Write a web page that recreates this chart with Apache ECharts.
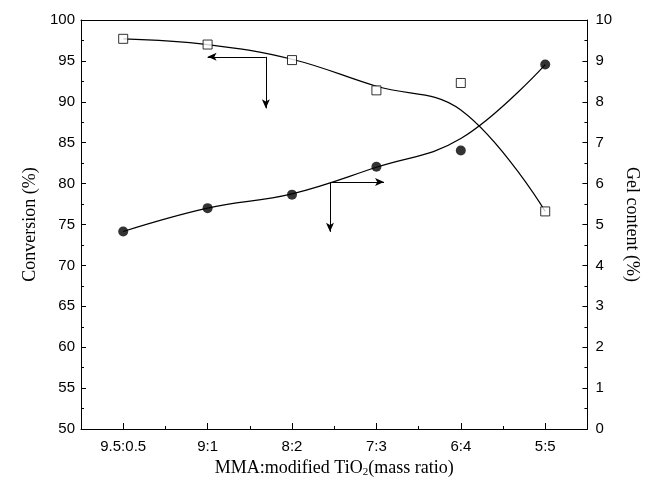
<!DOCTYPE html>
<html>
<head>
<meta charset="utf-8">
<script src="https://cdn.jsdelivr.net/npm/echarts@6/dist/echarts.min.js"></script>
<style>
  html, body { margin: 0; padding: 0; background: #fff; }
  #chart { width: 649px; height: 483px; }
</style>
</head>
<body>
<div id="chart"></div>
<script>
// 质量比（MMA:改性TiO2）
const ratios = ['9.5:0.5', '9:1', '8:2', '7:3', '6:4', '5:5']

// 转化率 (%) - 左轴，空心方块
const conversion = [97.7, 97.0, 95.1, 91.4, 92.3, 76.6]
// 转化率拟合曲线
const conversionFit = [97.7, 97.0, 95.2, 91.9, 89.0, 76.6]

// 凝胶含量 (%) - 右轴，实心圆点
const gelContent = [4.83, 5.4, 5.73, 6.41, 6.81, 8.91]
// 凝胶含量拟合曲线
const gelFit = [4.83, 5.4, 5.75, 6.4, 7.1, 8.91]

// 指示箭头：[起点x, 起点y, 终点x, 终点y]，x为类目序号，y为左轴数值
const arrows = [
    [1.69, 95.5, 1.0, 95.5],
    [1.69, 95.5, 1.69, 89.2],
    [2.45, 80.2, 3.09, 80.2],
    [2.45, 80.2, 2.45, 74.1]
]

const INK = '#000'
const tickFont = { fontFamily: 'Liberation Sans', fontSize: 15, color: INK }
const nameFont = { fontFamily: 'Liberation Serif', fontSize: 18, color: INK }

const chart = echarts.init(document.getElementById('chart'))

const option = {
    animation: false,
    grid: {
        left: 81,
        right: 53,
        top: 20,
        bottom: 52
    },
    xAxis: [
        {
            type: 'category',
            data: ratios,
            boundaryGap: true,
            name: 'MMA:modified TiO{sub|2}(mass ratio)',
            nameLocation: 'middle',
            nameGap: 30,
            nameTextStyle: {
                ...nameFont,
                rich: {
                    sub: { fontFamily: 'Liberation Serif', fontSize: 11, color: INK, verticalAlign: 'bottom', padding: [8, 0, 0, 0] }
                }
            },
            axisLine: { show: true, onZero: false, lineStyle: { color: INK, width: 1 } },
            axisTick: { show: true, alignWithLabel: true, inside: true, length: 6, lineStyle: { color: INK, width: 1 } },
            axisLabel: { ...tickFont, margin: 10 },
            splitLine: { show: false }
        },
        {
            // 类目之间的短刻度
            type: 'category',
            data: ratios,
            boundaryGap: true,
            position: 'bottom',
            axisLine: { show: false, onZero: false },
            axisTick: { show: true, interval: 0, inside: true, length: 3, lineStyle: { color: INK, width: 1 } },
            axisLabel: { show: false },
            splitLine: { show: false }
        },
        {
            // 顶边框
            type: 'category',
            data: ratios,
            position: 'top',
            axisLine: { show: true, onZero: false, lineStyle: { color: INK, width: 1 } },
            axisTick: { show: false },
            axisLabel: { show: false },
            splitLine: { show: false }
        },
        {
            // 箭头用的隐藏数值轴
            type: 'value',
            min: -0.5,
            max: 5.5,
            show: false
        }
    ],
    yAxis: [
        {
            type: 'value',
            min: 50,
            max: 100,
            interval: 5,
            name: 'Conversion (%)',
            nameLocation: 'middle',
            nameGap: 40,
            nameTextStyle: nameFont,
            axisLine: { show: true, onZero: false, lineStyle: { color: INK, width: 1 } },
            axisTick: { show: true, inside: true, length: 5, lineStyle: { color: INK, width: 1 } },
            minorTick: { show: true, splitNumber: 2, length: 3, lineStyle: { color: INK, width: 1 } },
            axisLabel: { ...tickFont, margin: 6 },
            splitLine: { show: false }
        },
        {
            type: 'value',
            min: 0,
            max: 10,
            interval: 1,
            position: 'right',
            name: 'Gel content (%)',
            nameLocation: 'middle',
            nameRotate: -90,
            nameGap: 30,
            nameTextStyle: nameFont,
            axisLine: { show: true, onZero: false, lineStyle: { color: INK, width: 1 } },
            axisTick: { show: true, inside: true, length: 5, lineStyle: { color: INK, width: 1 } },
            minorTick: { show: true, splitNumber: 2, length: 3, lineStyle: { color: INK, width: 1 } },
            axisLabel: { ...tickFont, margin: 8 },
            splitLine: { show: false }
        }
    ],
    series: [
        {
            name: 'Conversion fit',
            type: 'line',
            data: conversionFit,
            xAxisIndex: 0,
            yAxisIndex: 0,
            smooth: 0.4,
            showSymbol: false,
            lineStyle: { color: INK, width: 1.2 },
            z: 2
        },
        {
            name: 'Conversion',
            type: 'scatter',
            data: conversion,
            xAxisIndex: 0,
            yAxisIndex: 0,
            symbol: 'rect',
            symbolSize: 9,
            itemStyle: { color: '#fff', borderColor: INK, borderWidth: 1 },
            z: 3
        },
        {
            name: 'Gel fit',
            type: 'line',
            data: gelFit,
            xAxisIndex: 0,
            yAxisIndex: 1,
            smooth: 0.4,
            showSymbol: false,
            lineStyle: { color: INK, width: 1.2 },
            z: 2
        },
        {
            name: 'Gel content',
            type: 'scatter',
            data: gelContent,
            xAxisIndex: 0,
            yAxisIndex: 1,
            symbol: 'circle',
            symbolSize: 10,
            itemStyle: { color: INK },
            z: 3
        },
        {
            name: 'arrows',
            type: 'scatter',
            data: [],
            xAxisIndex: 3,
            yAxisIndex: 0,
            silent: true,
            markLine: {
                silent: true,
                symbol: ['none', 'arrow'],
                symbolSize: [6, 9],
                label: { show: false },
                lineStyle: { color: INK, width: 1, type: 'solid' },
                data: arrows.map(a => [{ coord: [a[0], a[1]] }, { coord: [a[2], a[3]] }])
            }
        }
    ]
}

chart.setOption(option)
</script>
</body>
</html>
